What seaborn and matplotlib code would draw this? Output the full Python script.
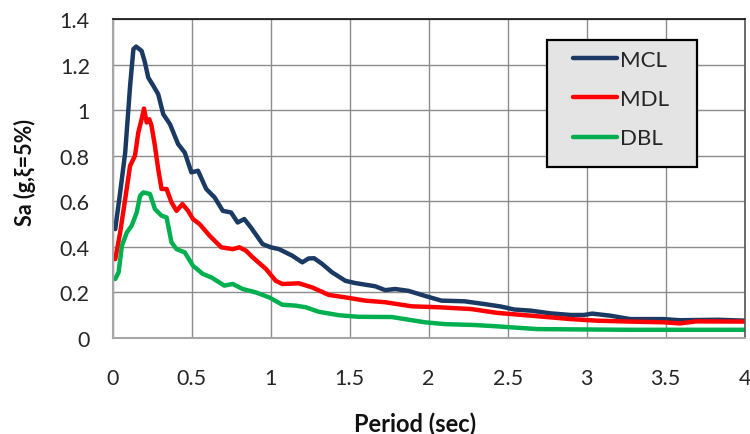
import numpy as np
import pandas as pd
import matplotlib
matplotlib.use("Agg")
import matplotlib.pyplot as plt
from matplotlib.patches import Rectangle
import seaborn as sns

# ---- data ----
mcl_T = [0.016, 0.047, 0.079, 0.110, 0.131, 0.148, 0.183, 0.204, 0.225, 0.257, 0.288, 0.320,
         0.362, 0.414, 0.456, 0.498, 0.540, 0.592, 0.645, 0.697, 0.749, 0.791, 0.833, 0.875,
         0.949, 1.001, 1.053, 1.137, 1.200, 1.240, 1.275, 1.326, 1.389, 1.473, 1.536, 1.662,
         1.725, 1.788, 1.872, 1.976, 2.081, 2.228, 2.353, 2.458, 2.542, 2.647, 2.773, 2.899,
         2.983, 3.035, 3.150, 3.276, 3.486, 3.590, 3.840, 4.000]
mcl_Sa = [0.478, 0.639, 0.814, 1.107, 1.268, 1.279, 1.260, 1.209, 1.143, 1.107, 1.070, 0.982,
          0.939, 0.851, 0.814, 0.727, 0.734, 0.654, 0.617, 0.558, 0.551, 0.507, 0.522, 0.485,
          0.412, 0.398, 0.390, 0.361, 0.332, 0.349, 0.350, 0.325, 0.288, 0.251, 0.241, 0.227,
          0.210, 0.215, 0.207, 0.185, 0.164, 0.161, 0.149, 0.138, 0.125, 0.120, 0.108, 0.101,
          0.101, 0.107, 0.098, 0.083, 0.083, 0.078, 0.080, 0.076]

mdl_T = [0.016, 0.047, 0.079, 0.110, 0.141, 0.162, 0.183, 0.198, 0.215, 0.232, 0.246, 0.267,
         0.288, 0.309, 0.341, 0.372, 0.404, 0.441, 0.477, 0.508, 0.550, 0.613, 0.687, 0.760,
         0.802, 0.844, 0.886, 0.970, 1.032, 1.074, 1.179, 1.263, 1.368, 1.494, 1.599, 1.725,
         1.893, 2.060, 2.270, 2.437, 2.647, 2.899, 3.066, 3.276, 3.486, 3.590, 3.695, 4.000]
mdl_Sa = [0.346, 0.463, 0.610, 0.756, 0.800, 0.902, 0.960, 1.007, 0.946, 0.960, 0.931, 0.844,
          0.741, 0.654, 0.654, 0.595, 0.558, 0.588, 0.558, 0.522, 0.500, 0.449, 0.398, 0.390,
          0.398, 0.383, 0.354, 0.303, 0.251, 0.237, 0.240, 0.222, 0.189, 0.176, 0.164, 0.157,
          0.139, 0.135, 0.127, 0.110, 0.098, 0.083, 0.076, 0.072, 0.069, 0.064, 0.073, 0.072]

dbl_T = [0.016, 0.037, 0.058, 0.089, 0.120, 0.152, 0.173, 0.194, 0.236, 0.267, 0.309, 0.341,
         0.372, 0.404, 0.456, 0.508, 0.571, 0.624, 0.707, 0.760, 0.823, 0.907, 0.991, 1.074,
         1.158, 1.221, 1.305, 1.431, 1.557, 1.767, 1.976, 2.102, 2.291, 2.437, 2.689, 3.276,
         4.000]
dbl_Sa = [0.259, 0.288, 0.405, 0.463, 0.493, 0.551, 0.624, 0.639, 0.632, 0.566, 0.537, 0.529,
          0.420, 0.390, 0.376, 0.317, 0.281, 0.266, 0.230, 0.237, 0.215, 0.200, 0.178, 0.146,
          0.142, 0.135, 0.115, 0.100, 0.093, 0.092, 0.069, 0.061, 0.057, 0.051, 0.039, 0.036,
          0.036]

series_names = ["MCL", "MDL", "DBL"]
series_colors = ["#1B3A63", "#FF0000", "#00B050"]
x_ticks = [0, 0.5, 1, 1.5, 2, 2.5, 3, 3.5, 4]
x_tick_labels = ["0", "0.5", "1", "1.5", "2", "2.5", "3", "3.5", "4"]
y_ticks = [0, 0.2, 0.4, 0.6, 0.8, 1.0, 1.2, 1.4]
y_tick_labels = ["0", "0.2", "0.4", "0.6", "0.8", "1", "1.2", "1.4"]

df = pd.concat([
    pd.DataFrame({"T": mcl_T, "Sa": mcl_Sa, "Level": "MCL"}),
    pd.DataFrame({"T": mdl_T, "Sa": mdl_Sa, "Level": "MDL"}),
    pd.DataFrame({"T": dbl_T, "Sa": dbl_Sa, "Level": "DBL"}),
], ignore_index=True)

sns.set_theme(style="white")
plt.rcParams["font.family"] = ["Lato", "DejaVu Sans"]

fig = plt.figure(figsize=(7.5, 4.35), dpi=100)
ax = fig.add_axes([0.1503, 0.2207, 0.8424, 0.7333])

sns.lineplot(data=df, x="T", y="Sa", hue="Level", hue_order=series_names,
             palette=series_colors, linewidth=3.2, sort=False, estimator=None,
             ax=ax, legend=True)

ax.set_xlim(0, 4)
ax.set_ylim(0, 1.4)
ax.set_xticks(x_ticks)
ax.set_xticklabels(x_tick_labels)
ax.set_yticks(y_ticks)
ax.set_yticklabels(y_tick_labels)
ax.tick_params(axis="both", labelsize=15.5, colors="#9a9a9a", labelcolor="#262626",
               length=6.5, width=1.2, direction="out")
ax.tick_params(axis="x", pad=15)
ax.tick_params(axis="y", pad=10)
ax.grid(True, color="#8c8c8c", linewidth=1.0)
ax.set_axisbelow(True)

for side in ["left", "bottom"]:
    ax.spines[side].set_color("#a6a6a6")
    ax.spines[side].set_linewidth(1.5)
ax.spines["top"].set_color("#111111")
ax.spines["top"].set_linewidth(1.2)
ax.spines["right"].set_color("#555555")
ax.spines["right"].set_linewidth(1.2)

ax.set_xlabel("Period (sec)", fontsize=17, fontweight="bold", color="#111111")
ax.xaxis.set_label_coords(0.478, -0.229)
ax.set_ylabel("Sa (g,ξ=5%)", fontsize=15.5, fontweight="bold", color="#111111")
ax.yaxis.set_label_coords(-0.121, 0.523)

# legend box (frame drawn separately so inner padding can match the reference)
ax.add_patch(Rectangle((0.6874, 0.536), 0.2374, 0.398, transform=ax.transAxes,
                       facecolor="#e4e4e4", edgecolor="#000000", linewidth=1.6,
                       zorder=5, clip_on=False))
handles, labels = ax.get_legend_handles_labels()
leg = ax.legend(handles, labels, loc="upper left", bbox_to_anchor=(0.7286, 0.904),
                borderaxespad=0, fontsize=16, frameon=False,
                handlelength=1.98, handletextpad=0.15, labelspacing=0.87,
                borderpad=0)
leg.set_zorder(6)
for line in leg.get_lines():
    line.set_linewidth(3.2)

fig.savefig("out.png", dpi=100)
